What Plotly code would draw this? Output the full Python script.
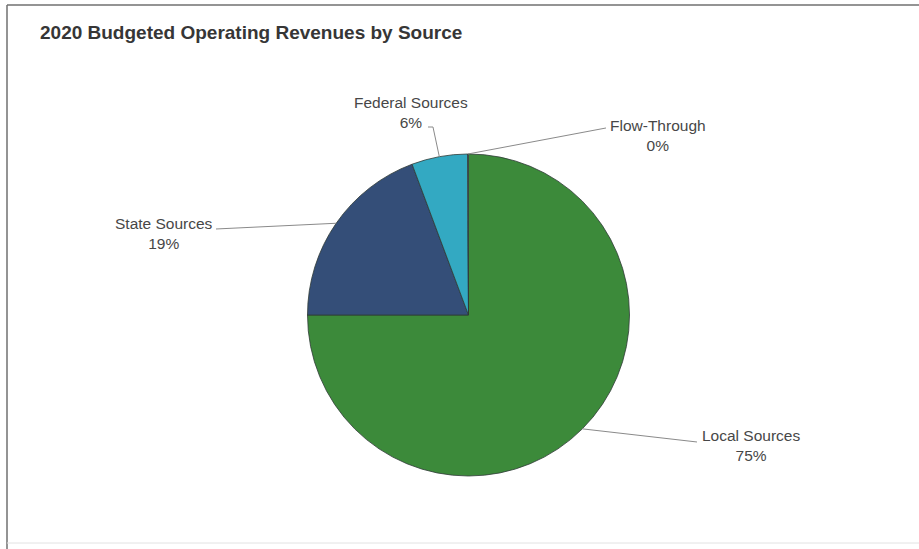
import math
import plotly.graph_objects as go

# Revenue shares (percent of total budgeted operating revenue)
sources = ["Local Sources", "State Sources", "Federal Sources", "Flow-Through"]
shares = [75.0, 19.3, 5.6, 0.1]
colors = ["#3c8a3a", "#344e78", "#33a9c2", "#8fc6d6"]

W, H = 919, 549
CX, CY, R = 468.5, 315.0, 161.0  # pie centre and radius in pixels


def px(x):
    return x / W


def py(y):
    return 1 - y / H


fig = go.Figure(
    go.Pie(
        labels=sources,
        values=shares,
        sort=False,
        direction="clockwise",
        rotation=0,
        textinfo="none",
        hoverinfo="label+percent",
        marker=dict(colors=colors, line=dict(color="#2f3a36", width=0.8)),
        domain=dict(x=[px(CX - R), px(CX + R)], y=[py(CY + R), py(CY - R)]),
        showlegend=False,
    )
)

# Label boxes (text centre) and leader-line bends, in pixels
label_pos = {
    "Local Sources": (751, 445, [(697, 442)]),
    "State Sources": (164, 233, [(216, 229)]),
    "Federal Sources": (411, 113, [(428, 127), (433, 127)]),
    "Flow-Through": (658, 135, [(606, 128)]),
}

total = sum(shares)
cum = 0.0
shapes = []
annotations = []
for name, v in zip(sources, shares):
    mid = (cum + v / 2) / total * 2 * math.pi
    cum += v
    ex = CX + R * math.sin(mid)
    ey = CY - R * math.cos(mid)
    lx, ly, bends = label_pos[name]
    pts = [(ex, ey)] + bends[::-1]
    path = "M " + " L ".join(f"{px(a):.5f},{py(b):.5f}" for a, b in pts)
    shapes.append(dict(type="path", xref="paper", yref="paper", path=path,
                       line=dict(color="#8a8a8a", width=1)))
    pct = round(v / total * 100)
    annotations.append(dict(
        x=px(lx), y=py(ly), xref="paper", yref="paper", showarrow=False,
        text=f"{name}<br>{pct}%", align="center",
        font=dict(family="Liberation Sans, Arial, sans-serif", size=15.5, color="#474747"),
        xanchor="center", yanchor="middle",
    ))

# Card frame
shapes += [
    dict(type="line", xref="paper", yref="paper", x0=px(7), x1=1.0, y0=py(5), y1=py(5),
         line=dict(color="#707070", width=1.5)),
    dict(type="line", xref="paper", yref="paper", x0=px(7), x1=px(7), y0=py(5), y1=0,
         line=dict(color="#707070", width=1.5)),
    dict(type="line", xref="paper", yref="paper", x0=px(7), x1=1.0, y0=py(543), y1=py(543),
         line=dict(color="#e2e2e2", width=1)),
]

annotations.append(dict(
    x=px(38), y=py(32), xref="paper", yref="paper", showarrow=False,
    text="<b>2020 Budgeted Operating Revenues by Source</b>",
    font=dict(family="Liberation Sans, Arial, sans-serif", size=19, color="#363636"),
    xanchor="left", yanchor="middle",
))

fig.update_layout(
    width=W, height=H,
    margin=dict(l=0, r=0, t=0, b=0),
    paper_bgcolor="white",
    plot_bgcolor="white",
    shapes=shapes,
    annotations=annotations,
)

fig.write_html("out.html")
